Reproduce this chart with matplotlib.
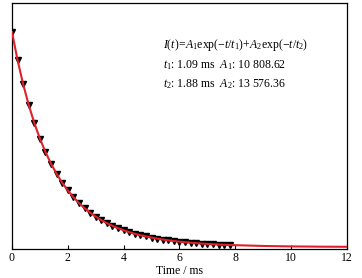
import numpy as np
import matplotlib
matplotlib.use("Agg")
import matplotlib.pyplot as plt

plt.rcParams['font.family'] = ['Liberation Serif', 'DejaVu Serif']
plt.rcParams['mathtext.fontset'] = 'custom'
plt.rcParams['mathtext.rm'] = 'Liberation Serif'
plt.rcParams['mathtext.it'] = 'Liberation Serif:italic'

# measured points (every 0.2 ms)
t_pts = [round(0.2 * i, 1) for i in range(40)]
i_pts = [24385, 21203, 18463, 16100, 14059, 12295, 10766, 9439, 8287, 7285,
         6412, 5649, 4983, 4401, 3890, 3442, 3049, 2703, 2399, 2130,
         1892, 1683, 1498, 1334, 1189, 1060, 946, 844, 754, 674,
         602, 539, 482, 431, 386, 346, 310, 277, 248, 222]

# fitted curve tail beyond last point
t_tail = [8.5, 9, 10, 11, 12]
i_tail = [160, 115, 65, 35, 20]

t_fit = t_pts + t_tail
i_fit = i_pts + i_tail

xticks = [0, 2, 4, 6, 8, 10, 12]

fig = plt.figure(figsize=(3.62, 2.78), dpi=100)
ax = fig.add_axes([0.0331, 0.1043, 0.9255, 0.8847])

ax.plot(t_pts, i_pts, linestyle='none', marker='v', color='black',
        markersize=4.5, zorder=2)
ax.plot(t_fit, i_fit, color='#e0202a', linewidth=1.5, zorder=3)

ax.set_xlim(0, 12)
ax.set_ylim(-230, 27670)
ax.set_xticks(xticks)
ax.set_yticks([])
ax.tick_params(axis='x', direction='in', length=3, labelsize=8.5, pad=2,
               top=False)
ax.set_xlabel('Time / ms', fontsize=8.5, labelpad=1)

for sp in ax.spines.values():
    sp.set_linewidth(0.9)

fs = 8.5
ax.text(0.451, 0.829,
        r'$I(t)\!=\!A_1\mathrm{exp}(-t/t_1)\!+\!A_2\mathrm{exp}(-t/t_2)$',
        transform=ax.transAxes, fontsize=fs, va='center', ha='left')
ax.text(0.451, 0.748, r'$t_1$: 1.09 ms  $A_1$: 10 808.62',
        transform=ax.transAxes, fontsize=fs, va='center', ha='left')
ax.text(0.451, 0.671, r'$t_2$: 1.88 ms  $A_2$: 13 576.36',
        transform=ax.transAxes, fontsize=fs, va='center', ha='left')

fig.savefig('out.png', dpi=100)
